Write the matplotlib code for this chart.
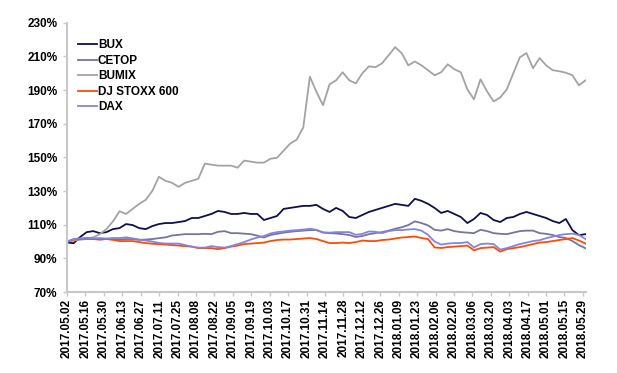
import matplotlib
matplotlib.use("Agg")
import matplotlib.pyplot as plt
import matplotlib.dates as mdates
from matplotlib.ticker import FuncFormatter
import numpy as np
import pandas as pd

plt.rcParams['font.family'] = ['Liberation Sans', 'DejaVu Sans']
plt.rcParams['font.weight'] = 'bold'

# sample dates (about every 5 days) from 2017.05.02 to 2018.05.31
dates = pd.date_range('2017-05-02', '2018-05-31', periods=80)
tick_dates = pd.date_range('2017-05-02', '2018-05-29', freq='14D')

bux = [99.5, 99.0, 102.7, 105.6, 106.2, 105.0, 105.6, 107.4, 108.0, 110.4,
       109.8, 108.0, 107.4, 109.2, 110.4, 111.0, 111.0, 111.6, 112.2, 114.0,
       114.0, 115.2, 116.4, 118.2, 117.6, 116.4, 116.4, 117.0, 116.4, 116.4,
       112.8, 114.0, 115.2, 119.4, 120.0, 120.6, 121.2, 121.2, 121.8, 119.4,
       117.6, 120.0, 118.2, 114.6, 114.0, 115.8, 117.6, 118.8, 120.0, 121.2,
       122.4, 121.8, 121.2, 125.4, 124.2, 122.4, 120.0, 117.0, 118.2, 116.4,
       114.6, 111.0, 113.4, 117.0, 115.8, 112.8, 111.6, 114.0, 114.6, 116.4,
       117.6, 116.4, 115.2, 114.0, 112.2, 111.0, 113.4, 106.8, 103.8, 104.4]

cetop = [100.0, 100.8, 101.2, 101.5, 101.5, 101.3, 101.5, 101.5, 101.2, 101.5,
         101.5, 101.0, 101.2, 101.5, 102.0, 102.5, 103.6, 104.0, 104.4, 104.4,
         104.4, 104.6, 104.4, 105.8, 106.2, 105.0, 105.0, 104.7, 104.4, 103.5,
         102.4, 103.9, 104.6, 105.3, 105.8, 106.2, 106.5, 106.8, 106.8, 105.3,
         105.0, 104.8, 104.4, 103.9, 102.7, 103.3, 104.4, 105.0, 105.6, 106.5,
         107.6, 108.5, 109.8, 112.0, 111.0, 109.6, 107.0, 106.5, 107.4, 106.2,
         105.6, 105.3, 105.0, 107.0, 106.2, 105.0, 104.6, 104.4, 105.3, 106.2,
         106.5, 106.5, 105.0, 104.6, 103.9, 102.7, 102.1, 100.3, 97.9, 96.0]

bumix = [100.0, 100.5, 101.5, 102.0, 102.5, 104.4, 107.4, 112.0, 118.0, 116.4,
         119.4, 122.4, 124.8, 130.1, 138.5, 136.1, 134.9, 132.5, 134.9, 136.1,
         137.3, 146.3, 145.7, 145.1, 145.1, 145.1, 143.9, 148.1, 147.5, 146.9,
         146.9, 149.2, 149.8, 154.0, 158.2, 160.6, 167.8, 198.0, 189.0, 181.0,
         193.4, 195.8, 200.6, 195.8, 194.0, 200.0, 204.1, 203.6, 205.9, 210.7,
         215.5, 211.9, 204.7, 207.0, 204.7, 201.8, 198.8, 200.6, 205.3, 202.4,
         200.6, 190.4, 184.5, 196.4, 189.2, 183.3, 185.6, 190.4, 200.0, 209.5,
         212.0, 203.0, 209.0, 204.7, 201.8, 201.2, 200.3, 198.8, 192.8, 195.8]

stoxx = [100.0, 101.2, 101.5, 102.0, 101.5, 101.2, 101.5, 101.0, 100.3, 100.3,
         100.3, 99.7, 99.1, 98.7, 98.5, 98.2, 97.9, 97.6, 97.3, 97.0,
         96.1, 96.1, 96.1, 95.5, 96.1, 97.0, 97.6, 98.5, 98.8, 99.1,
         99.4, 100.3, 100.9, 101.2, 101.2, 101.5, 101.8, 102.1, 101.5, 100.3,
         99.1, 99.1, 99.4, 99.1, 99.7, 100.6, 100.3, 100.3, 100.9, 101.2,
         101.8, 102.4, 102.7, 103.0, 102.1, 101.5, 96.5, 96.2, 96.7, 97.0,
         97.3, 97.6, 94.8, 96.1, 96.4, 96.7, 94.0, 95.5, 96.1, 96.7,
         97.6, 98.5, 99.4, 99.7, 100.3, 100.9, 101.5, 102.1, 100.6, 98.8]

dax = [100.0, 101.5, 101.9, 102.1, 101.9, 102.1, 101.8, 102.1, 102.1, 102.5,
       101.9, 101.2, 100.6, 100.0, 99.2, 98.8, 98.8, 98.8, 97.9, 97.0,
       96.4, 96.4, 97.3, 96.7, 96.4, 97.3, 98.5, 99.7, 101.2, 102.4,
       103.3, 104.8, 105.6, 106.0, 106.5, 106.8, 107.1, 107.6, 107.0, 105.5,
       105.3, 105.6, 105.6, 105.6, 104.0, 104.6, 106.0, 105.8, 105.0, 106.2,
       106.8, 106.8, 107.2, 107.4, 106.5, 104.0, 100.0, 98.2, 98.8, 99.1,
       99.1, 99.7, 96.5, 98.5, 98.8, 98.5, 95.2, 96.1, 97.3, 98.5,
       99.4, 100.3, 100.8, 102.0, 102.9, 103.9, 104.4, 104.7, 103.9, 101.5]

names = ['BUX', 'CETOP', 'BUMIX', 'DJ STOXX 600', 'DAX']
colors = ['#10104a', '#75759e', '#a3a3a3', '#ff4a0a', '#8585d8']


def main():
    fig = plt.figure(figsize=(6.17, 3.73), dpi=100)
    ax = fig.add_axes([0.1086, 0.217, 0.8404, 0.722])

    for series, name, c in zip([bux, cetop, bumix, stoxx, dax], names, colors):
        ax.plot(dates, series, color=c, linewidth=1.3, label=name)

    ax.set_ylim(70, 230)
    ax.set_yticks(np.arange(70, 231, 20))
    ax.yaxis.set_major_formatter(FuncFormatter(lambda v, p: '%d%%' % v))
    ax.set_xlim(dates[0], dates[-1])
    ax.set_xticks(tick_dates)
    ax.xaxis.set_major_formatter(mdates.DateFormatter('%Y.%m.%d'))
    plt.setp(ax.get_xticklabels(), rotation=90)

    for s in ['top', 'right']:
        ax.spines[s].set_visible(False)
    for s in ['left', 'bottom']:
        ax.spines[s].set_color('#c8c8c8')
        ax.spines[s].set_linewidth(1.5)
    ax.tick_params(axis='both', colors='#c8c8c8', labelcolor='black',
                   labelsize=8.5, length=3, width=1)
    ax.tick_params(axis='y', pad=4)
    ax.tick_params(axis='x', pad=2)

    ax.legend(loc='upper left', frameon=False, bbox_to_anchor=(0.005, 0.97),
              prop={'size': 8.5, 'weight': 'bold'}, handlelength=1.6,
              handletextpad=0.1, labelspacing=0.3, borderaxespad=0.3)

    plt.savefig('out.png', dpi=100)


if __name__ == "__main__":
    main()
